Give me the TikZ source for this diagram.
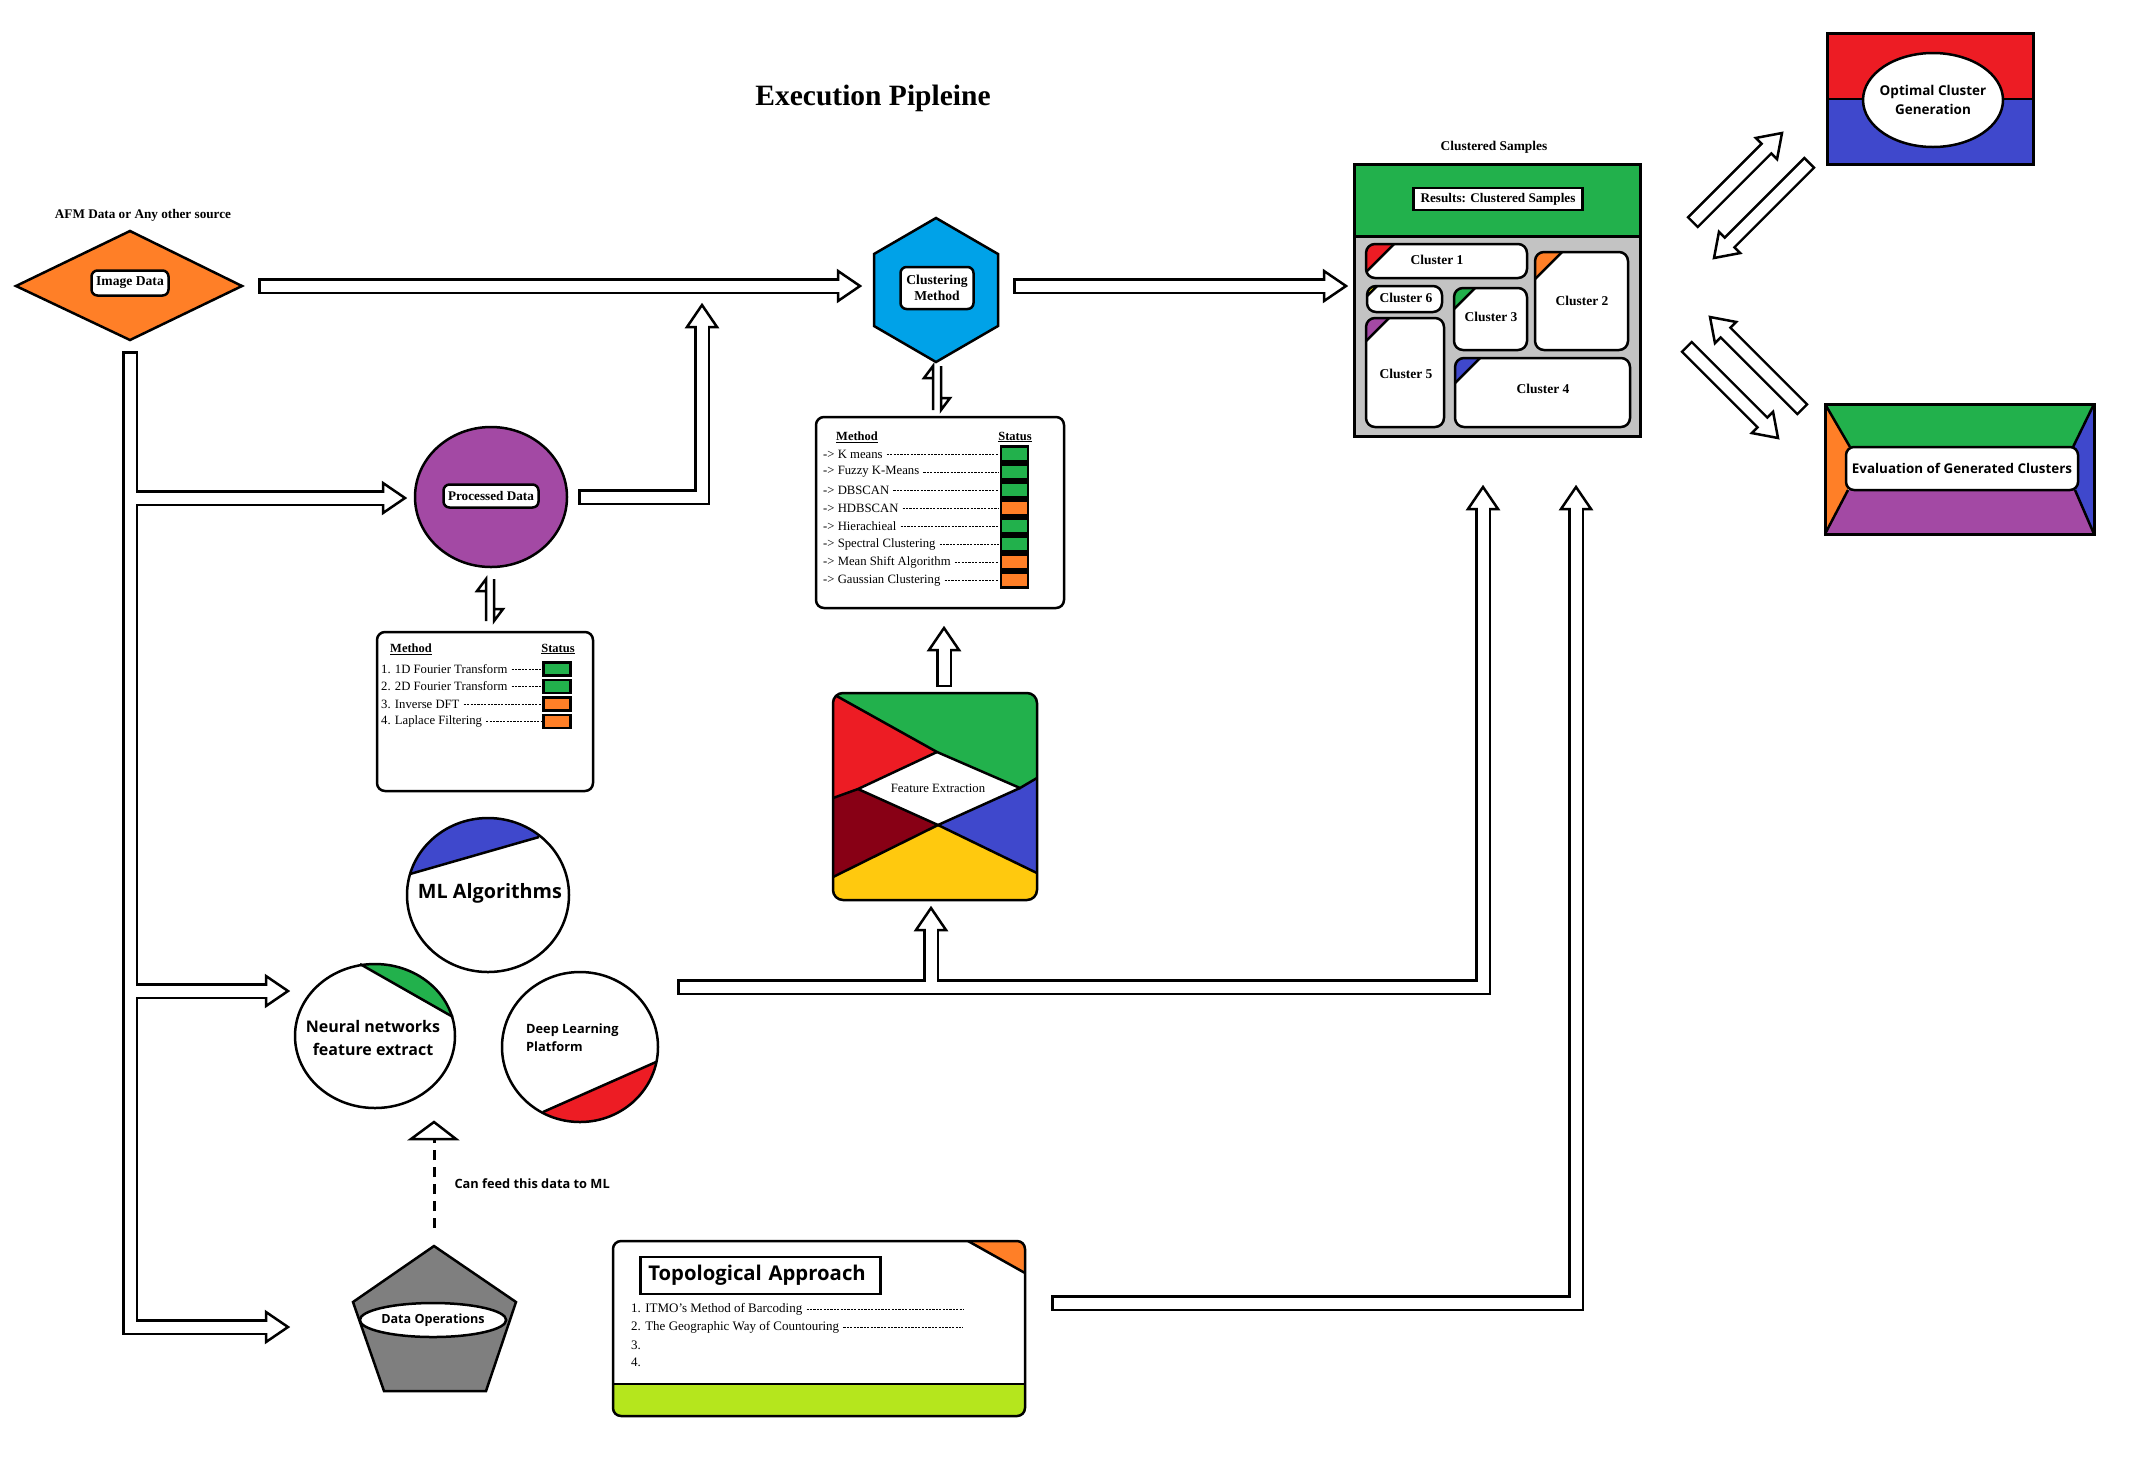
\documentclass[tikz,border=0pt]{standalone}
\usepackage{fontspec}
\setmainfont{Liberation Serif}
\newfontfamily\sansfam{Open Sans}
\newcommand{\sansbf}{\sansfam\bfseries}
\usetikzlibrary{calc,shapes.geometric}
\definecolor{corange}{HTML}{FF7F27}
\definecolor{cgreen}{HTML}{22B14C}
\definecolor{ccyan}{HTML}{00A2E8}
\definecolor{cpurple}{HTML}{A349A4}
\definecolor{cred}{HTML}{ED1C24}
\definecolor{cblue}{HTML}{3F48CC}
\definecolor{cdred}{HTML}{880015}
\definecolor{cyellow}{HTML}{FFC90E}
\definecolor{clime}{HTML}{B5E61D}
\definecolor{cgrey}{HTML}{C3C3C3}
\definecolor{cdgrey}{HTML}{7F7F7F}
\definecolor{cyeltwo}{HTML}{FFF200}
\newcommand{\ahead}[2]{\begin{scope}[shift={#1},rotate=#2]\draw[fill=white,line width=2.5pt,line join=miter] (0,0) -- (-22,15) -- (-22,-15) -- cycle;\end{scope}}
\newcommand{\harrow}[3]{%
 \draw[line width=16pt] (#1) -- ($(#2)!20pt!(#1)$);
 \ahead{(#2)}{#3}
 \draw[white,line width=11pt] ($(#1)!2.5pt!(#2)$) -- ($(#2)!19pt!(#1)$);}
% x0 y0 x1 y1 leg colour name text-pos text
\newcommand{\clusterbox}[9]{%
 \begin{scope}
 \clip[rounded corners=9pt] (#1,#2) rectangle (#3,#4);
 \fill[white] (#1,#2) rectangle (#3,#4);
 \fill[#6] (#1,#2) -- ({#1+#5},#2) -- (#1,{#2+#5}) -- cycle;
 \draw[line width=2.5pt] ({#1+#5},#2) -- (#1,{#2+#5});
 \end{scope}
 \draw[line width=2.5pt,rounded corners=9pt] (#1,#2) rectangle (#3,#4);
 \node[clt] (#7) at (#8) {#9};}
\tikzset{
 ol/.style={line width=2.5pt},
 clt/.style={font=\fontsize{13.5}{15}\selectfont\bfseries},
 sr/.style={font=\fontsize{12.7}{14}\selectfont},
 ss/.style={font=\fontsize{13.4}{18}\selectfont\sansbf},
 innerbox/.style={draw,fill=white,line width=2.5pt,rounded corners=6pt,inner sep=2pt,font=\fontsize{13.6}{16}\selectfont\bfseries},
 tabhead/.style={font=\fontsize{12.5}{14}\selectfont\bfseries,inner sep=1pt},
 tabtxt/.style={font=\fontsize{12.7}{14}\selectfont,inner sep=1pt},
 stbox/.style={draw,line width=2.5pt,minimum width=27pt,minimum height=14pt,inner sep=0pt},
 leader/.style={line width=0.6pt,dash pattern=on 2.2pt off 1.2pt},
}
\begin{document}
\begin{tikzpicture}[x=1pt,y=-1pt,line join=miter]
\fill[white] (0,0) rectangle (2132,1460);
\useasboundingbox (0,0) rectangle (2132,1460);

% title
\node[font=\fontsize{29.5}{34}\selectfont\bfseries] (title) at (873,98) {Execution Pipleine};

% ---------- hollow arrows ----------
\coordinate (a1s) at (258,286); \coordinate (a1e) at (860,286);
\harrow{a1s}{a1e}{0}
\coordinate (a2s) at (1013,286); \coordinate (a2e) at (1346,286);
\harrow{a2s}{a2e}{0}
\coordinate (a3s) at (944,687); \coordinate (a3e) at (944,628);
\harrow{a3s}{a3e}{90}
\coordinate (dAs) at (1692,223); \coordinate (dAe) at (1782,133);
\harrow{dAs}{dAe}{45}
\coordinate (dBs) at (1810,162); \coordinate (dBe) at (1714,258);
\harrow{dBs}{dBe}{-135}
\coordinate (dCs) at (1686,346); \coordinate (dCe) at (1778,438);
\harrow{dCs}{dCe}{-45}
\coordinate (dDs) at (1803,410); \coordinate (dDe) at (1710,317);
\harrow{dDs}{dDe}{135}

% Processed -> Clustering (elbow)
\coordinate (p1) at (578,497); \coordinate (p2) at (702,497); \coordinate (p3) at (702,305);
\draw[line width=16pt] (p1) -- (p2) -- ($(p3)+(0,20)$);
\ahead{(p3)}{90}
\draw[white,line width=11pt] ($(p1)+(2.5,0)$) -- (p2) -- ($(p3)+(0,19)$);

% Image data tree
\coordinate (i0) at (130,351); \coordinate (i1) at (130,1327); \coordinate (i2) at (288,1327);
\coordinate (ib1) at (130,498); \coordinate (ib1t) at (405,498);
\coordinate (ib2) at (130,991); \coordinate (ib2t) at (288,991);
\draw[line width=16pt] (i0) -- (i1) -- ($(i2)+(-20,0)$);
\draw[line width=16pt] (ib1) -- ($(ib1t)+(-20,0)$);
\draw[line width=16pt] (ib2) -- ($(ib2t)+(-20,0)$);
\ahead{(i2)}{0}\ahead{(ib1t)}{0}\ahead{(ib2t)}{0}
\draw[white,line width=11pt] ($(i0)+(0,2.5)$) -- (i1) -- ($(i2)+(-19,0)$);
\draw[white,line width=11pt] (ib1) -- ($(ib1t)+(-19,0)$);
\draw[white,line width=11pt] (ib2) -- ($(ib2t)+(-19,0)$);

% ML tree
\coordinate (m0) at (677,987); \coordinate (m1) at (1483,987); \coordinate (m2) at (1483,487);
\coordinate (mb) at (931,987); \coordinate (mbt) at (931,908);
\draw[line width=16pt] (m0) -- (m1) -- ($(m2)+(0,20)$);
\draw[line width=16pt] (mb) -- ($(mbt)+(0,20)$);
\ahead{(m2)}{90}\ahead{(mbt)}{90}
\draw[white,line width=11pt] ($(m0)+(2.5,0)$) -- (m1) -- ($(m2)+(0,19)$);
\draw[white,line width=11pt] (mb) -- ($(mbt)+(0,19)$);

% Topological -> Results
\coordinate (t0) at (1051,1303); \coordinate (t1) at (1576,1303); \coordinate (t2) at (1576,487);
\draw[line width=16pt] (t0) -- (t1) -- ($(t2)+(0,20)$);
\ahead{(t2)}{90}
\draw[white,line width=11pt] ($(t0)+(2.5,0)$) -- (t1) -- ($(t2)+(0,19)$);

% ---------- Image Data ----------
\node[font=\fontsize{13.2}{15}\selectfont\bfseries] (afm) at (143,215) {AFM Data or Any other source};
\draw[ol,fill=corange] (16,286) -- (130,231) -- (242,286) -- (130,340) -- cycle;
\node[innerbox,minimum width=77pt,minimum height=25pt] (img) at (130,283) {Image Data};

% ---------- Clustering hexagon ----------
\draw[ol,fill=ccyan] (936,218) -- (998,254) -- (998,326) -- (936,362) -- (874,326) -- (874,254) -- cycle;
\node[innerbox,align=center,minimum width=73pt,minimum height=42pt,font=\fontsize{13.6}{16}\selectfont\bfseries] (clm) at (937,288) {Clustering\\Method};
\draw[ol] (933,410) -- (933,366) -- (924,378) -- (933,378);
\draw[ol] (941,366) -- (941,410) -- (950,398) -- (941,398);

% ---------- Processed Data ----------
\draw[ol,fill=cpurple] (491,497) ellipse [x radius=76, y radius=70];
\node[innerbox,minimum width=95pt,minimum height=23pt,font=\fontsize{13.2}{15}\selectfont\bfseries] (proc) at (491,496) {Processed Data};
\draw[ol] (486,621) -- (486,579) -- (477,591) -- (486,591);
\draw[ol] (494,579) -- (494,621) -- (503,609) -- (494,609);

% ---------- Processing table ----------
\draw[ol,fill=white,rounded corners=8pt] (377,632) rectangle (593,791);
\node[tabhead,anchor=west] (pm) at (389,649) {\underline{Method}};
\node[tabhead] (ps) at (558,649) {\underline{Status}};
\foreach \t/\c [count=\i] in {{1. 1D Fourier Transform}/cgreen,{2. 2D Fourier Transform}/cgreen,{3. Inverse DFT}/corange,{4. Laplace Filtering}/corange}{
 \node[tabtxt,anchor=west] (pt\i) at (380,{651.5+17.5*\i}) {\t};
 \node[stbox,fill=\c,minimum height=13pt] (pq\i) at (557,{651.5+17.5*\i}) {};
 \draw[leader] ($(pt\i.east)+(3,0)$) -- ($(pq\i.west)+(-1,0)$);
}

% ---------- Clustering table ----------
\draw[ol,fill=white,rounded corners=8pt] (816,417) rectangle (1064,608);
\node[tabhead,anchor=west] (cm) at (835,437) {\underline{Method}};
\node[tabhead] (cs) at (1015,437) {\underline{Status}};
\foreach \t/\c [count=\i] in {{-> K means}/cgreen,{-> Fuzzy K-Means}/cgreen,{-> DBSCAN}/cgreen,{-> HDBSCAN}/corange,{-> Hierachieal}/cgreen,{-> Spectral Clustering}/cgreen,{-> Mean Shift Algorithm}/corange,{-> Gaussian Clustering}/corange}{
 \node[tabtxt,anchor=west] (ct\i) at (822,{436+18*\i}) {\t};
 \node[stbox,fill=\c,minimum height=15pt] (cq\i) at (1014.5,{436+18*\i}) {};
 \draw[leader] ($(ct\i.east)+(3,0)$) -- ($(cq\i.west)+(-1,0)$);
}

% ---------- Feature Extraction ----------
\coordinate (fT) at (937,752); \coordinate (fL) at (858,789);
\coordinate (fR) at (1020,788); \coordinate (fB) at (938,825);
\begin{scope}
\clip[rounded corners=10pt] (833,693) rectangle (1037,900);
\fill[cgreen] (830,690) rectangle (1040,905);
\fill[cred] (830,692.3) -- (fT) -- (fL) -- (830,799.1) -- cycle;
\fill[cdred] (830,799.1) -- (fL) -- (fB) -- (830,878.5) -- cycle;
\fill[cblue] (1040,776.2) -- (1040,874.5) -- (fB) -- (fR) -- cycle;
\fill[cyellow] (830,878.5) -- (fB) -- (1040,874.5) -- (1040,905) -- (830,905) -- cycle;
\fill[white] (fT) -- (fR) -- (fB) -- (fL) -- cycle;
\draw[ol] (830,692.3) -- (fT) -- (fR) -- (1040,776.2);
\draw[ol] (830,799.1) -- (fL) -- (fT);
\draw[ol] (fL) -- (fB) -- (1040,874.5);
\draw[ol] (830,878.5) -- (fB) -- (fR);
\end{scope}
\draw[ol,rounded corners=10pt] (833,693) rectangle (1037,900);
\node[sr] (feat) at (938,788) {Feature Extraction};

% ---------- Results ----------
\node[font=\fontsize{13.4}{15}\selectfont\bfseries] (csl) at (1494,147) {Clustered Samples};
\fill[cgreen] (1354,164) rectangle (1640,236);
\fill[cgrey] (1354,236) rectangle (1640,436);
\draw[line width=3pt] (1354,236) -- (1640,236);
\draw[line width=3pt] (1354,164) rectangle (1640,436);
\node[draw,fill=white,line width=2.5pt,minimum width=169pt,minimum height=22pt,inner sep=1pt,font=\fontsize{13.2}{15}\selectfont\bfseries] (res) at (1498,199) {Results: Clustered Samples};
\clusterbox{1366}{244}{1527}{278}{28}{cred}{c1}{1437,260}{Cluster 1}
\clusterbox{1535}{252}{1628}{350}{27}{corange}{c2}{1582,301}{Cluster 2}
\clusterbox{1367}{286}{1442}{312}{10}{cyeltwo}{c6}{1406,298}{Cluster 6}
\clusterbox{1454}{288}{1527}{350}{21}{cgreen}{c3}{1491,317}{Cluster 3}
\clusterbox{1366}{318}{1444}{427}{23}{cpurple}{c5}{1406,374}{Cluster 5}
\clusterbox{1455}{358}{1630}{427}{25}{cblue}{c4}{1543,389}{Cluster 4}

% ---------- Optimal ----------
\fill[cred] (1827,33) rectangle (2033,99);
\fill[cblue] (1827,99) rectangle (2033,164);
\draw[ol] (1827,99) -- (2033,99);
\draw[line width=3pt] (1827,33) rectangle (2033,164);
\draw[ol,fill=white] (1933,100) ellipse [x radius=70, y radius=47];
\node[align=center,font=\fontsize{13.5}{19}\selectfont\sansbf] (opt) at (1933,100) {Optimal Cluster\\Generation};

% ---------- Evaluation ----------
\fill[cgreen] (1825,404) -- (2094,404) -- (2073,447) -- (1850,447) -- cycle;
\fill[corange] (1825,404) -- (1850,447) -- (1848,490) -- (1825,534) -- cycle;
\fill[cblue] (2094,404) -- (2094,534) -- (2075,490) -- (2073,447) -- cycle;
\fill[cpurple] (1825,534) -- (1848,490) -- (2075,490) -- (2094,534) -- cycle;
\draw[ol] (1825,404) -- (1850,447) (2094,404) -- (2073,447) (1825,534) -- (1848,490) (2094,534) -- (2075,490);
\draw[ol,fill=white,rounded corners=8pt] (1846,447) rectangle (2078,490);
\draw[line width=3pt] (1825,404) rectangle (2094,534);
\node[ss] (eval) at (1962,468.5) {Evaluation of Generated Clusters};

% ---------- ML circles ----------
\begin{scope}
\clip (488,895) ellipse [x radius=81, y radius=77];
\fill[cblue] (400,876.9) -- (580,825.2) -- (580,810) -- (400,810) -- cycle;
\end{scope}
\draw[ol] (410,874) -- (539,837);
\draw[ol] (488,895) ellipse [x radius=81, y radius=77];
\node[font=\fontsize{19.8}{24}\selectfont\sansbf] (mla) at (490,893) {ML Algorithms};

\begin{scope}
\clip (375,1036) ellipse [x radius=80, y radius=72];
\fill[cgreen] (340,951.4) -- (470,1026.9) -- (470,940) -- (340,940) -- cycle;
\end{scope}
\draw[ol] (360,964) -- (453,1017);
\draw[ol] (375,1036) ellipse [x radius=80, y radius=72];
\node[align=center,font=\fontsize{16}{23}\selectfont\sansbf] (nn) at (373,1038) {Neural networks\\feature extract};

\begin{scope}
\clip (580,1047) ellipse [x radius=78, y radius=75];
\fill[cred] (500,1131) -- (665,1058) -- (665,1140) -- (500,1140) -- cycle;
\end{scope}
\draw[ol] (543,1112) -- (656,1062);
\draw[ol] (580,1047) ellipse [x radius=78, y radius=75];
\node[align=left,anchor=west,inner sep=0pt,font=\fontsize{12.8}{18}\selectfont\sansbf] (dl) at (526,1038) {Deep Learning\\Platform};

% ---------- Data Operations ----------
\draw[ol,fill=cdgrey] (434,1246) -- (516,1302) -- (486,1391) -- (384,1391) -- (353,1302) -- cycle;
\node[draw,fill=white,line width=2.5pt,ellipse,minimum width=136pt,minimum height=34pt,inner sep=0pt,font=\fontsize{12.6}{16}\selectfont\sansbf] (dop) at (433,1320) {Data Operations};
\coordinate (dash0) at (434,1228); \coordinate (dash1) at (434,1139);
\draw[line width=3pt,dash pattern=on 10pt off 7pt] (dash0) -- (dash1);
\draw[ol,fill=white] (434,1122) -- (456,1139) -- (411,1139) -- cycle;
\node[anchor=west,font=\fontsize{12.8}{16}\selectfont\sansbf] (feed) at (451,1184) {Can feed this data to ML};

% ---------- Topological ----------
\begin{scope}
\clip[rounded corners=8pt] (613,1241) rectangle (1025,1416);
\fill[white] (613,1241) rectangle (1025,1416);
\fill[clime] (613,1384) rectangle (1025,1416);
\fill[corange] (968,1241) -- (1025,1241) -- (1025,1273) -- cycle;
\draw[ol] (968,1241) -- (1025,1273);
\end{scope}
\draw[ol] (613,1384) -- (1025,1384);
\draw[ol,rounded corners=8pt] (613,1241) rectangle (1025,1416);
\node[draw,line width=2.5pt,anchor=west,inner xsep=8pt,text width=224pt,minimum height=37pt,align=left,font=\fontsize{20.3}{24}\selectfont\sansbf] (topt) at (639,1275.5) {Topological Approach};
\coordinate (te1) at (963,1309); \coordinate (te2) at (963,1327);
\node[anchor=west,inner sep=1pt,font=\fontsize{13}{14}\selectfont] (ti1) at (630,1309) {1. ITMO's Method of Barcoding};
\node[anchor=west,inner sep=1pt,font=\fontsize{13}{14}\selectfont] (ti2) at (630,1327) {2. The Geographic Way of Countouring};
\node[anchor=west,inner sep=1pt,font=\fontsize{13}{14}\selectfont] (ti3) at (630,1345) {3.};
\node[anchor=west,inner sep=1pt,font=\fontsize{13}{14}\selectfont] (ti4) at (630,1362) {4.};
\draw[leader] ($(ti1.east)+(3,0)$) -- (te1);
\draw[leader] ($(ti2.east)+(3,0)$) -- (te2);
\end{tikzpicture}
\end{document}
